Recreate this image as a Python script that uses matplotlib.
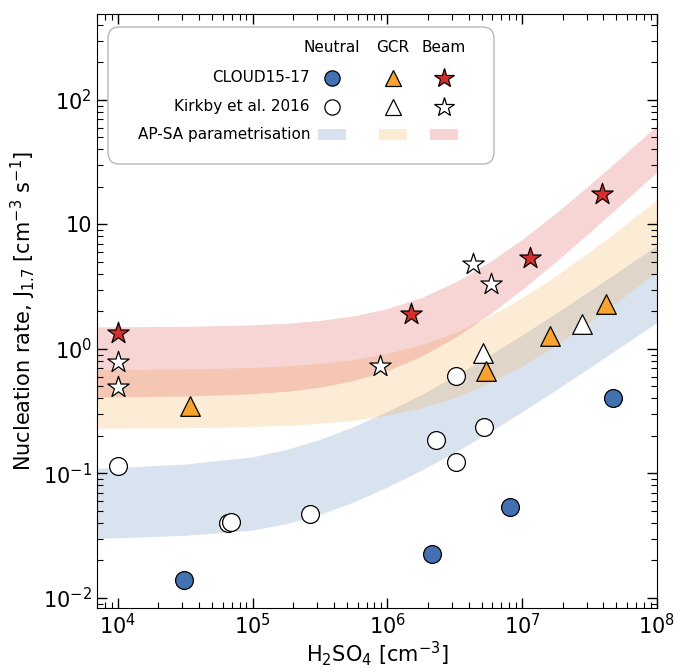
import matplotlib
matplotlib.use("Agg")
import matplotlib.pyplot as plt
from matplotlib.patches import FancyBboxPatch, Rectangle

# colours
c_neu = "#4471b2"
c_gcr = "#f8a22f"
c_beam = "#d62f2b"

# CLOUD15-17 measurements
neu_sa = [3.1e4, 2.15e6, 8.1e6, 4.7e7]
neu_j = [0.014, 0.0225, 0.054, 0.40]
gcr_sa = [3.4e4, 5.4e6, 1.6e7, 4.2e7]
gcr_j = [0.35, 0.67, 1.28, 2.3]
beam_sa = [1.0e4, 1.5e6, 1.15e7, 3.9e7]
beam_j = [1.35, 1.9, 5.4, 17.6]

# Kirkby et al. 2016
k_neu_sa = [1.0e4, 6.6e4, 6.9e4, 2.65e5, 2.3e6, 3.2e6, 3.2e6, 5.2e6]
k_neu_j = [0.115, 0.040, 0.041, 0.047, 0.186, 0.124, 0.61, 0.236]
k_gcr_sa = [5.1e6, 2.8e7]
k_gcr_j = [0.93, 1.58]
k_beam_sa = [1.0e4, 1.0e4, 8.8e5, 4.3e6, 5.9e6]
k_beam_j = [0.79, 0.49, 0.73, 4.8, 3.3]

# AP-SA parametrisation bands (lower / upper edge)
band_sa = [7e3, 1e4, 3.16e4, 1e5, 1.78e5, 3.16e5, 5.62e5, 1e6, 1.78e6,
           3.16e6, 5.62e6, 1e7, 1.78e7, 3.16e7, 5.62e7, 1e8]
neu_lo = [0.0302, 0.0304, 0.0318, 0.0350, 0.0395, 0.0470, 0.0590, 0.0780,
          0.1060, 0.1480, 0.2130, 0.313, 0.469, 0.707, 1.073, 1.637]
neu_hi = [0.110, 0.1115, 0.1190, 0.1360, 0.156, 0.1880, 0.2380, 0.3150,
          0.4300, 0.6060, 0.8780, 1.296, 1.94, 2.93, 4.45, 6.80]
gcr_lo = [0.2307, 0.231, 0.2328, 0.2379, 0.2433, 0.2523, 0.2675, 0.293,
          0.3357, 0.4074, 0.5278, 0.73, 1.069, 1.639, 2.596, 4.20]
gcr_hi = [0.6828, 0.6838, 0.6907, 0.7101, 0.7306, 0.7649, 0.8225, 0.9192,
          1.0816, 1.354, 1.812, 2.58, 3.87, 6.04, 9.67, 15.77]
beam_lo = [0.4118, 0.4126, 0.4182, 0.436, 0.4562, 0.4922, 0.5562, 0.67,
           0.8724, 1.232, 1.872, 3.01, 5.03, 8.63, 15.03, 26.41]
beam_hi = [1.504, 1.506, 1.519, 1.561, 1.608, 1.693, 1.843, 2.11,
           2.585, 3.429, 4.93, 7.6, 12.35, 20.79, 35.8, 62.5]

fig = plt.figure(figsize=(6.76, 6.72), dpi=100)
ax = fig.add_axes([97 / 676, 64 / 672, 560 / 676, 594 / 672])

for lo, hi, c in [(neu_lo, neu_hi, c_neu), (gcr_lo, gcr_hi, c_gcr), (beam_lo, beam_hi, c_beam)]:
    ax.fill_between(band_sa, lo, hi, color=c, alpha=0.2, lw=0)

ms = dict(edgecolors="k", linewidths=0.9, zorder=5)
ax.scatter(k_neu_sa, k_neu_j, s=165, marker="o", facecolors="white", **ms)
ax.scatter(k_gcr_sa, k_gcr_j, s=200, marker="^", facecolors="white", **ms)
ax.scatter(k_beam_sa, k_beam_j, s=260, marker="*", facecolors="white", **ms)
ax.scatter(neu_sa, neu_j, s=165, marker="o", facecolors=c_neu, **ms)
ax.scatter(gcr_sa, gcr_j, s=200, marker="^", facecolors=c_gcr, **ms)
ax.scatter(beam_sa, beam_j, s=260, marker="*", facecolors=c_beam, **ms)

ax.set_xscale("log")
ax.set_yscale("log")
ax.set_xlim(7e3, 1e8)
ax.set_ylim(8.3e-3, 490)
ax.set_yticks([1e-2, 1e-1, 1, 10, 100])
ax.set_yticklabels([r"$10^{-2}$", r"$10^{-1}$", r"$10^{0}$", "10", r"$10^{2}$"])
ax.tick_params(which="both", direction="in", top=True, right=True, labelsize=15)
ax.tick_params(which="major", length=7, width=1)
ax.tick_params(which="minor", length=4, width=0.8)
ax.set_xlabel(r"H$_2$SO$_4$ [cm$^{-3}$]", fontsize=15, labelpad=1)
ax.set_ylabel(r"Nucleation rate, J$_{1.7}$ [cm$^{-3}$ s$^{-1}$]", fontsize=15, labelpad=4)

# hand-built legend
tr = ax.transAxes
def fx(px):
    return (px - 97) / 560
def fy(py):
    return 1 - (py - 14) / 594

box = FancyBboxPatch((fx(108), fy(164)), fx(494) - fx(108), fy(27) - fy(164),
                     boxstyle="round,pad=0,rounding_size=0.02", transform=tr,
                     facecolor="white", edgecolor="#b0b0b0", lw=1, alpha=0.9, zorder=8)
ax.add_patch(box)
cols = [332, 393, 444]
for px, lab in zip(cols, ["Neutral", "GCR", "Beam"]):
    ax.text(fx(px), fy(48), lab, transform=tr, ha="center", va="center", fontsize=11, zorder=9)
for py, lab in zip([78, 107, 135], ["CLOUD15-17", "Kirkby et al. 2016", "AP-SA parametrisation"]):
    ax.text(fx(310), fy(py), lab, transform=tr, ha="right", va="center", fontsize=11, zorder=9)
for px, mk, c, s in zip(cols, ["o", "^", "*"], [c_neu, c_gcr, c_beam], [11, 12, 15]):
    ax.plot(fx(px), fy(78), marker=mk, ms=s, mfc=c, mec="k", mew=0.9, transform=tr, zorder=9, clip_on=False)
    ax.plot(fx(px), fy(107), marker=mk, ms=s, mfc="white", mec="k", mew=0.9, transform=tr, zorder=9, clip_on=False)
    ax.add_patch(Rectangle((fx(px - 14), fy(140)), fx(px + 14) - fx(px - 14), fy(129) - fy(140),
                           transform=tr, facecolor=c, alpha=0.2, lw=0, zorder=9))

fig.savefig("out.png", dpi=100)
